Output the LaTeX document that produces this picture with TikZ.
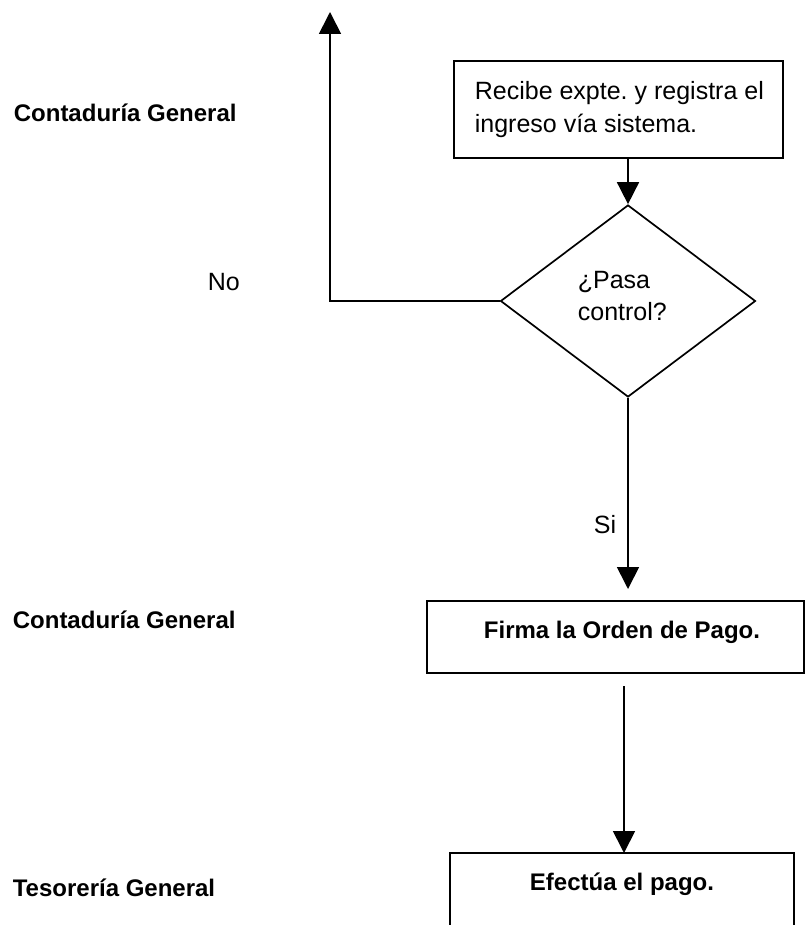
\documentclass[tikz,border=0pt]{standalone}
\usepackage{fontspec}
\setmainfont{Liberation Sans}
\usetikzlibrary{arrows.meta,shapes.geometric}
\frenchspacing
\begin{document}
\begin{tikzpicture}[x=1pt,y=-1pt,
  line width=1.7pt,
  every node/.style={font=\fontsize{25}{33}\selectfont},
  boxstyle/.style={draw, line width=1.7pt, inner sep=0pt, anchor=north west},
  lanelabel/.style={anchor=base west, inner sep=0pt, font=\fontsize{24}{33}\selectfont\bfseries},
  txt/.style={inner sep=0pt},
  arr/.style={-{Triangle[width=22pt,length=22pt]}, line width=1.7pt}]
\useasboundingbox (0,0) rectangle (811,925);

% lane labels
\node[lanelabel] (l1) at (13,122) {Contaduría General};
\node[lanelabel] (l2) at (12,628) {Contaduría General};
\node[lanelabel] (l3) at (12,896) {Tesorería General};

% box 1
\node[boxstyle, minimum width=329pt, minimum height=97pt] (b1) at (453,60) {};
\node[txt, anchor=base west] (b1t1) at (474,100) {Recibe expte. y registra el};
\node[txt, anchor=base west] (b1t2) at (474,133) {ingreso vía sistema.};

% decision
\node[draw, shape=diamond, line width=1.7pt, minimum width=255pt, minimum height=192pt, inner sep=0pt, aspect=1.33] (d) at (628,301) {};
\node[txt, anchor=base west] (dt1) at (577,288) {¿Pasa};
\node[txt, anchor=base west] (dt2) at (577,320) {control?};

% box 2
\node[boxstyle, minimum width=377pt, minimum height=72pt] (b2) at (426,600) {};
\node[txt, anchor=base, font=\fontsize{24}{33}\selectfont\bfseries] (b2t) at (622,638) {Firma la Orden de Pago.};

% box 3 (open at the bottom)
\coordinate (b3bl) at (450,926);
\coordinate (b3tl) at (450,853);
\coordinate (b3tr) at (794,853);
\coordinate (b3br) at (794,926);
\draw[line width=1.7pt] (b3bl) -- (b3tl) -- (b3tr) -- (b3br);
\node[txt, anchor=base, font=\fontsize{24}{33}\selectfont\bfseries] (b3t) at (622,890) {Efectúa el pago.};

% labels
\node[txt, anchor=base west] (no) at (207,290) {No};
\node[txt, anchor=base west] (si) at (593,533) {Si};

% connectors
\draw[arr] (b1.south -| d.north) -- (d.north);
\coordinate (nocorner) at (330,301);
\coordinate (notop) at (330,12);
\draw[arr] (d.west) -- (nocorner) -- (notop);
\coordinate (siend) at (628,589);
\draw[arr] (d.south) -- (siend);
\coordinate (b2out) at (624,686);
\draw[arr] (b2out) -- (b2out |- b3tl);
\end{tikzpicture}
\end{document}
